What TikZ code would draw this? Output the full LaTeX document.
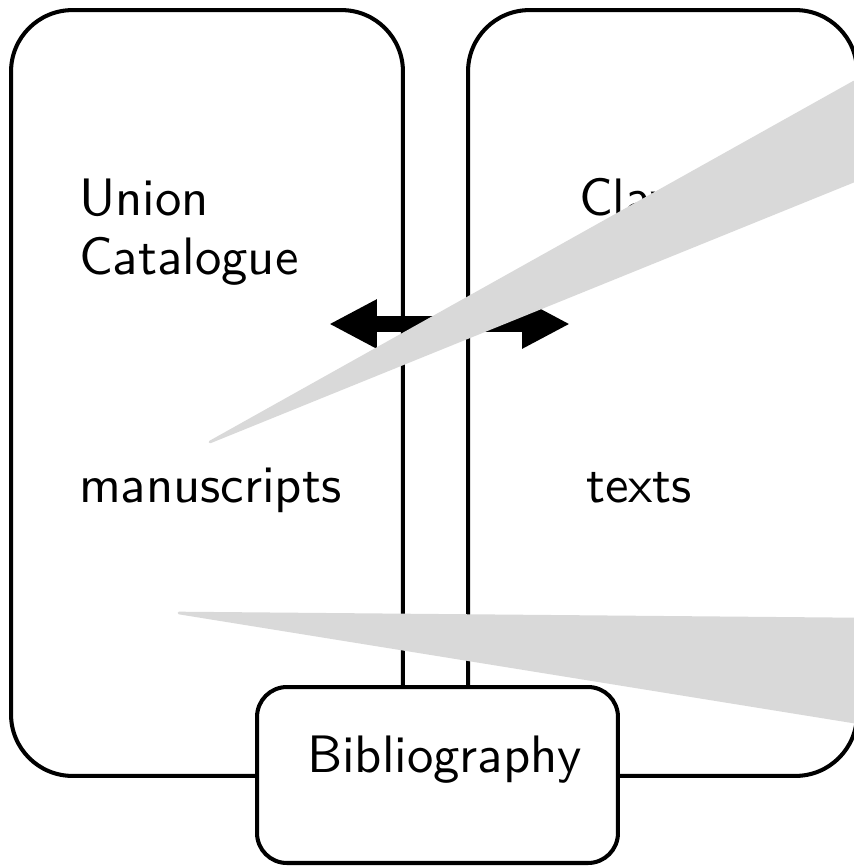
\documentclass[tikz,border=0pt]{standalone}
\usepackage{xcolor}
\usepackage{tikz}
\definecolor{calloutgray}{RGB}{217, 217, 217}
\usetikzlibrary{arrows.meta,positioning}

\begin{document}
\begin{tikzpicture}[x=0.02cm, y=-0.02cm,
    panel/.style={draw, line width=2.3pt, fill=white, inner sep=0pt},
    label/.style={font=\sffamily, inner sep=0pt, scale=3, anchor=base west},
    callout/.style={fill=calloutgray, draw=calloutgray, line width=1.5pt, line join=round},
    biarrow/.style={line width=0.32cm, {Triangle[length=0.96cm, width=0.92cm]}-{Triangle[length=0.96cm, width=0.92cm]}}]
    \useasboundingbox (0,0) rectangle (854,866);
    \clip (0,0) rectangle (854,866);
    \node[panel, rounded corners=35pt, minimum width=7.84cm, minimum height=15.32cm] (union) at (207,393) {};
    \node[panel, rounded corners=35pt, minimum width=7.78cm, minimum height=15.32cm] (clavis) at (662.5,393) {};
    \node[label] (uniontxt) at (78,215) {Union};
    \node[label] (cattxt) at (78,274) {Catalogue};
    \node[label] (mstxt) at (78,502) {manuscripts};
    \node[label] (clavistxt) at (578,215) {Clavis};
    \node[label] (texttxt) at (585,502) {texts};
    \coordinate (arrowL) at (329,324);
    \coordinate (arrowR) at (570,324);
    \draw[biarrow] (arrowL) -- (arrowR);
    \node[panel, rounded corners=17pt, minimum width=7.22cm, minimum height=3.52cm] (biblio) at (437.5,775) {};
    \node[label] (bibtxt) at (306,772) {Bibliography};
    \coordinate (tipA) at (210,442);
    \coordinate (tipB) at (179,613);
    \fill[callout] (tipA) -- (854,82) -- (854,181) -- cycle;
    \fill[callout] (tipB) -- (854,619) -- (854,722) -- cycle;
\end{tikzpicture}
\end{document}
